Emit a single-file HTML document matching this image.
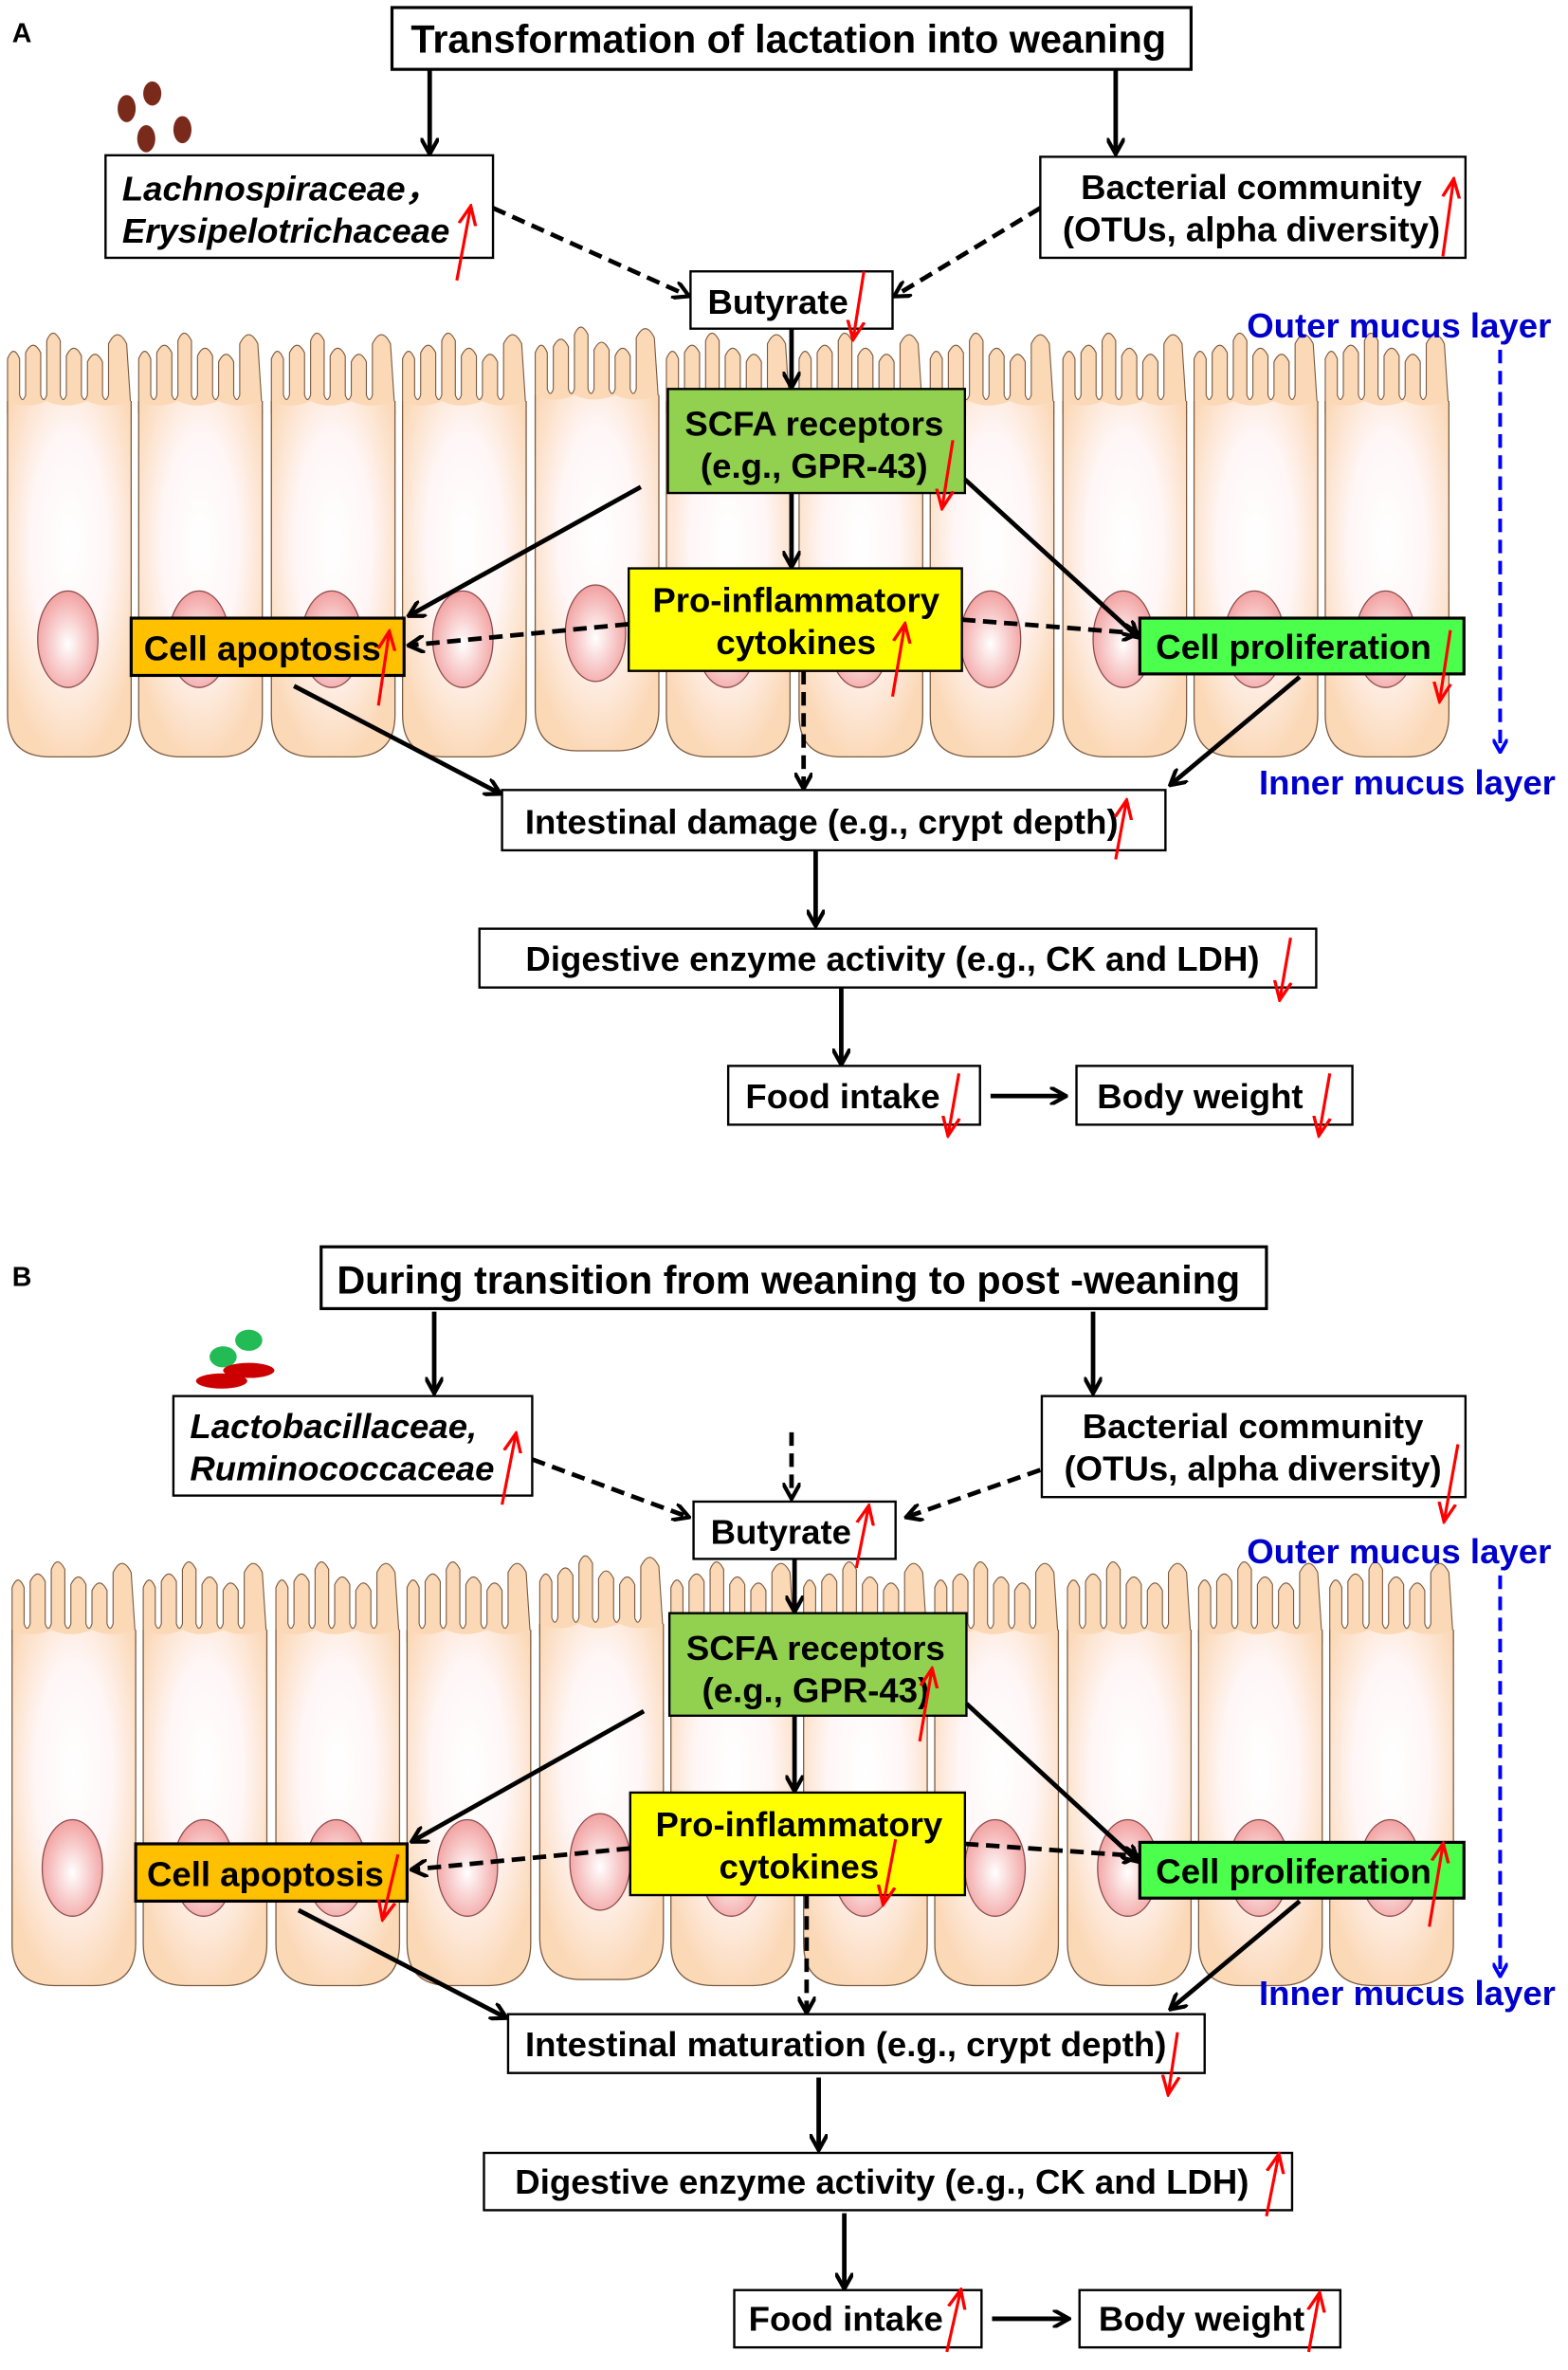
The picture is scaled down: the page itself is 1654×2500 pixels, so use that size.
<!DOCTYPE html>
<html><head><meta charset="utf-8"><style>
html,body{margin:0;padding:0;background:#fff;}
svg{display:block;}
text{font-family:"Liberation Sans",Arial,sans-serif;font-weight:bold;fill:#000;}
</style></head><body>
<svg width="1654" height="2500" viewBox="0 0 1040 1572" preserveAspectRatio="none" xmlns="http://www.w3.org/2000/svg">
<defs>
<radialGradient id="cg" cx="0.5" cy="0.4" r="0.62">
<stop offset="0" stop-color="#ffffff"/><stop offset="0.5" stop-color="#fff6f6"/><stop offset="1" stop-color="#fbd8b6"/>
</radialGradient>
<radialGradient id="ng" cx="0.5" cy="0.55" r="0.55">
<stop offset="0" stop-color="#ffffff"/><stop offset="1" stop-color="#f2a0a0"/>
</radialGradient>
<symbol id="cell" viewBox="0 0 86 280" width="86" height="280" overflow="visible">
<g fill="#fbd8b6" stroke="#7a5a40" stroke-width="0.7">
<path d="M2,50 L2,14 Q6,4 10,14 L10,38 Q12,44 14,38 L14,10 Q19,0 24,10 L24,38 Q26,44 28,38 L28,2 Q32,-8 37,2 L37,38 Q39,44 41,38 L41,12 Q46,2 51,12 L51,38 Q53,44 55,38 L55,16 Q60,6 65,16 L65,38 Q67,44 69,38 L69,4 Q75,-8 81,4 L84,50 Z"/>
</g>
<path d="M2,42 L2,250 Q2,278 30,278 L56,278 Q84,278 84,250 L84,42 Q67,48 55,42 Q40,48 28,42 Q15,48 2,42 Z" fill="url(#cg)" stroke="none"/>
<path d="M2,42 L2,250 Q2,278 30,278 L56,278 Q84,278 84,250 L84,42" fill="none" stroke="#7a5a40" stroke-width="0.8"/>
<ellipse cx="42" cy="200" rx="20" ry="32" fill="url(#ng)" stroke="#8a4a4a" stroke-width="0.8"/>
</symbol>
<marker id="ah" viewBox="0 0 10 10" refX="8" refY="5" markerWidth="4" markerHeight="4" orient="auto"><path d="M0,0 L9,5 L0,10" fill="none" stroke="#000" stroke-width="2.2"/></marker>
<marker id="rh" viewBox="0 0 10 10" refX="8" refY="5" markerWidth="7" markerHeight="7" orient="auto"><path d="M0,1 L9,5 L0,9" fill="none" stroke="#f00" stroke-width="1.5"/></marker>
<marker id="bh" viewBox="0 0 10 10" refX="8" refY="5" markerWidth="4" markerHeight="4" orient="auto"><path d="M0,0 L9,5 L0,10" fill="none" stroke="#00f" stroke-width="2.4"/></marker>
</defs>

<!-- ========== PANEL A ========== -->
<g id="cellsA">
<use href="#cell" x="3" y="224"/><use href="#cell" x="90" y="224"/><use href="#cell" x="178" y="224"/>
<use href="#cell" x="265" y="224"/><use href="#cell" x="353" y="220"/><use href="#cell" x="440" y="224"/>
<use href="#cell" x="528" y="224"/><use href="#cell" x="615" y="224"/><use href="#cell" x="703" y="224"/>
<use href="#cell" x="790" y="224"/><use href="#cell" x="877" y="224"/>
</g>
<text x="8" y="28" font-size="18">A</text>
<rect x="260" y="5" width="530" height="41" fill="#fff" stroke="#000" stroke-width="2"/>
<text x="523" y="35" font-size="26" text-anchor="middle">Transformation of lactation into weaning</text>
<g stroke="#000" stroke-width="3" fill="none" marker-end="url(#ah)">
<line x1="285" y1="46" x2="285" y2="101"/><line x1="740" y1="46" x2="740" y2="101"/>
</g>
<g fill="#7a2a1a"><ellipse cx="84" cy="72" rx="6" ry="9"/><ellipse cx="101" cy="62" rx="6" ry="8"/><ellipse cx="97" cy="92" rx="6" ry="9"/><ellipse cx="121" cy="86" rx="6" ry="9"/></g>
<rect x="70" y="103" width="257" height="68" fill="#fff" stroke="#000" stroke-width="1.5"/>
<text x="81" y="133" font-size="23" font-style="italic">Lachnospiraceae，</text>
<text x="81" y="161" font-size="23" font-style="italic">Erysipelotrichaceae</text>
<rect x="690" y="104" width="282" height="67" fill="#fff" stroke="#000" stroke-width="1.5"/>
<text x="830" y="132" font-size="23" text-anchor="middle">Bacterial community</text>
<text x="830" y="160" font-size="23" text-anchor="middle">(OTUs, alpha diversity)</text>
<g stroke="#000" stroke-width="3" fill="none" stroke-dasharray="9,5" marker-end="url(#ah)">
<line x1="327" y1="138" x2="456" y2="196"/><line x1="690" y1="138" x2="594" y2="196"/>
</g>
<rect x="458" y="180" width="134" height="38" fill="#fff" stroke="#000" stroke-width="1.5"/>
<text x="516" y="208" font-size="23" text-anchor="middle">Butyrate</text>
<line x1="525" y1="218" x2="525" y2="256" stroke="#000" stroke-width="3" marker-end="url(#ah)"/>
<rect x="443" y="258" width="197" height="69" fill="#92d050" stroke="#000" stroke-width="1.5"/>
<text x="540" y="289" font-size="23" text-anchor="middle">SCFA receptors</text>
<text x="540" y="317" font-size="23" text-anchor="middle">(e.g., GPR-43)</text>
<line x1="525" y1="327" x2="525" y2="375" stroke="#000" stroke-width="3" marker-end="url(#ah)"/>
<g stroke="#000" stroke-width="3" fill="none" marker-end="url(#ah)">
<line x1="425" y1="323" x2="272" y2="408"/><line x1="640" y1="318" x2="754" y2="422"/>
<line x1="195" y1="455" x2="331" y2="526"/><line x1="862" y1="449" x2="777" y2="520"/>
</g>
<rect x="417" y="377" width="221" height="68" fill="#ffff00" stroke="#000" stroke-width="1.5"/>
<text x="528" y="406" font-size="23" text-anchor="middle">Pro-inflammatory</text>
<text x="528" y="434" font-size="23" text-anchor="middle">cytokines</text>
<rect x="87" y="410" width="181" height="38" fill="#ffc000" stroke="#000" stroke-width="2"/>
<text x="174" y="438" font-size="23" text-anchor="middle">Cell apoptosis</text>
<rect x="756" y="410" width="215" height="37" fill="#4cff4c" stroke="#000" stroke-width="2"/>
<text x="858" y="437" font-size="23" text-anchor="middle">Cell proliferation</text>
<g stroke="#000" stroke-width="3" fill="none" stroke-dasharray="9,5" marker-end="url(#ah)">
<line x1="417" y1="414" x2="272" y2="428"/><line x1="638" y1="411" x2="754" y2="420"/>
<line x1="533" y1="445" x2="533" y2="522"/>
</g>
<text x="827" y="224" font-size="23" style="fill:#0000cc">Outer mucus layer</text>
<text x="835" y="527" font-size="23" style="fill:#0000cc">Inner mucus layer</text>
<line x1="995" y1="232" x2="995" y2="498" stroke="#00f" stroke-width="2.5" stroke-dasharray="9,5" marker-end="url(#bh)"/>
<rect x="333" y="524" width="440" height="40" fill="#fff" stroke="#000" stroke-width="1.5"/>
<text x="545" y="553" font-size="23" text-anchor="middle">Intestinal damage (e.g., crypt depth)</text>
<line x1="541" y1="564" x2="541" y2="613" stroke="#000" stroke-width="3" marker-end="url(#ah)"/>
<rect x="318" y="616" width="555" height="39" fill="#fff" stroke="#000" stroke-width="1.5"/>
<text x="592" y="644" font-size="23" text-anchor="middle">Digestive enzyme activity (e.g., CK and LDH)</text>
<line x1="558" y1="655" x2="558" y2="705" stroke="#000" stroke-width="3" marker-end="url(#ah)"/>
<rect x="483" y="707" width="167" height="39" fill="#fff" stroke="#000" stroke-width="1.5"/>
<text x="559" y="735" font-size="23" text-anchor="middle">Food intake</text>
<line x1="657" y1="727" x2="706" y2="727" stroke="#000" stroke-width="3" marker-end="url(#ah)"/>
<rect x="714" y="707" width="183" height="39" fill="#fff" stroke="#000" stroke-width="1.5"/>
<text x="796" y="735" font-size="23" text-anchor="middle">Body weight</text>
<g stroke="#f00" stroke-width="2" fill="none" marker-end="url(#rh)">
<line x1="303" y1="186" x2="312" y2="138"/>
<line x1="957" y1="170" x2="964" y2="120"/>
<line x1="573" y1="180" x2="566" y2="224"/>
<line x1="632" y1="292" x2="625" y2="336"/>
<line x1="592" y1="462" x2="600" y2="415"/>
<line x1="251" y1="468" x2="258" y2="420"/>
<line x1="962" y1="418" x2="955" y2="464"/>
<line x1="740" y1="570" x2="747" y2="532"/>
<line x1="856" y1="622" x2="849" y2="662"/>
<line x1="636" y1="712" x2="629" y2="752"/>
<line x1="882" y1="712" x2="875" y2="752"/>
</g>

<!-- ========== PANEL B ========== -->
<g transform="translate(3,815)">
<use href="#cell" x="3" y="224"/><use href="#cell" x="90" y="224"/><use href="#cell" x="178" y="224"/>
<use href="#cell" x="265" y="224"/><use href="#cell" x="353" y="220"/><use href="#cell" x="440" y="224"/>
<use href="#cell" x="528" y="224"/><use href="#cell" x="615" y="224"/><use href="#cell" x="703" y="224"/>
<use href="#cell" x="790" y="224"/><use href="#cell" x="877" y="224"/>
</g>
<text x="8" y="853" font-size="18">B</text>
<rect x="213" y="827" width="627" height="41" fill="#fff" stroke="#000" stroke-width="2"/>
<text x="523" y="858" font-size="26" text-anchor="middle">During transition from weaning to post -weaning</text>
<g stroke="#000" stroke-width="3" fill="none" marker-end="url(#ah)">
<line x1="288" y1="870" x2="288" y2="923"/><line x1="725" y1="870" x2="725" y2="923"/>
</g>
<ellipse cx="148" cy="900" rx="9" ry="7" fill="#22bb55"/><ellipse cx="165" cy="889" rx="9" ry="7" fill="#22bb55"/>
<ellipse cx="165" cy="909" rx="17" ry="5" fill="#cc0000"/><ellipse cx="147" cy="916" rx="17" ry="5" fill="#cc0000"/>
<rect x="115" y="926" width="238" height="66" fill="#fff" stroke="#000" stroke-width="1.5"/>
<text x="126" y="954" font-size="23" font-style="italic">Lactobacillaceae,</text>
<text x="126" y="982" font-size="23" font-style="italic">Ruminococcaceae</text>
<rect x="691" y="926" width="281" height="67" fill="#fff" stroke="#000" stroke-width="1.5"/>
<text x="831" y="954" font-size="23" text-anchor="middle">Bacterial community</text>
<text x="831" y="982" font-size="23" text-anchor="middle">(OTUs, alpha diversity)</text>
<g stroke="#000" stroke-width="3" fill="none" stroke-dasharray="9,5" marker-end="url(#ah)">
<line x1="353" y1="968" x2="456" y2="1006"/><line x1="690" y1="975" x2="602" y2="1006"/>
<line x1="525" y1="950" x2="525" y2="993"/>
</g>
<rect x="460" y="996" width="134" height="38" fill="#fff" stroke="#000" stroke-width="1.5"/>
<text x="518" y="1024" font-size="23" text-anchor="middle">Butyrate</text>
<line x1="527" y1="1034" x2="527" y2="1068" stroke="#000" stroke-width="3" marker-end="url(#ah)"/>
<rect x="444" y="1070" width="197" height="68" fill="#92d050" stroke="#000" stroke-width="1.5"/>
<text x="541" y="1101" font-size="23" text-anchor="middle">SCFA receptors</text>
<text x="541" y="1129" font-size="23" text-anchor="middle">(e.g., GPR-43)</text>
<line x1="527" y1="1138" x2="527" y2="1187" stroke="#000" stroke-width="3" marker-end="url(#ah)"/>
<g stroke="#000" stroke-width="3" fill="none" marker-end="url(#ah)">
<line x1="427" y1="1135" x2="274" y2="1221"/><line x1="641" y1="1130" x2="754" y2="1234"/>
<line x1="198" y1="1267" x2="335" y2="1338"/><line x1="862" y1="1261" x2="777" y2="1332"/>
</g>
<rect x="418" y="1189" width="222" height="68" fill="#ffff00" stroke="#000" stroke-width="1.5"/>
<text x="530" y="1218" font-size="23" text-anchor="middle">Pro-inflammatory</text>
<text x="530" y="1246" font-size="23" text-anchor="middle">cytokines</text>
<rect x="90" y="1223" width="180" height="38" fill="#ffc000" stroke="#000" stroke-width="2"/>
<text x="176" y="1251" font-size="23" text-anchor="middle">Cell apoptosis</text>
<rect x="756" y="1222" width="215" height="37" fill="#4cff4c" stroke="#000" stroke-width="2"/>
<text x="858" y="1249" font-size="23" text-anchor="middle">Cell proliferation</text>
<g stroke="#000" stroke-width="3" fill="none" stroke-dasharray="9,5" marker-end="url(#ah)">
<line x1="418" y1="1226" x2="274" y2="1240"/><line x1="640" y1="1223" x2="754" y2="1231"/>
<line x1="535" y1="1257" x2="535" y2="1334"/>
</g>
<text x="827" y="1037" font-size="23" style="fill:#0000cc">Outer mucus layer</text>
<text x="835" y="1330" font-size="23" style="fill:#0000cc">Inner mucus layer</text>
<line x1="995" y1="1045" x2="995" y2="1310" stroke="#00f" stroke-width="2.5" stroke-dasharray="9,5" marker-end="url(#bh)"/>
<rect x="337" y="1336" width="462" height="39" fill="#fff" stroke="#000" stroke-width="1.5"/>
<text x="561" y="1364" font-size="23" text-anchor="middle">Intestinal maturation (e.g., crypt depth)</text>
<line x1="543" y1="1378" x2="543" y2="1425" stroke="#000" stroke-width="3" marker-end="url(#ah)"/>
<rect x="321" y="1428" width="536" height="38" fill="#fff" stroke="#000" stroke-width="1.5"/>
<text x="585" y="1455" font-size="23" text-anchor="middle">Digestive enzyme activity (e.g., CK and LDH)</text>
<line x1="560" y1="1468" x2="560" y2="1517" stroke="#000" stroke-width="3" marker-end="url(#ah)"/>
<rect x="487" y="1519" width="164" height="38" fill="#fff" stroke="#000" stroke-width="1.5"/>
<text x="561" y="1546" font-size="23" text-anchor="middle">Food intake</text>
<line x1="658" y1="1538" x2="708" y2="1538" stroke="#000" stroke-width="3" marker-end="url(#ah)"/>
<rect x="716" y="1519" width="173" height="38" fill="#fff" stroke="#000" stroke-width="1.5"/>
<text x="797" y="1546" font-size="23" text-anchor="middle">Body weight</text>
<g stroke="#f00" stroke-width="2" fill="none" marker-end="url(#rh)">
<line x1="333" y1="998" x2="342" y2="952"/>
<line x1="967" y1="958" x2="958" y2="1008"/>
<line x1="568" y1="1040" x2="576" y2="1000"/>
<line x1="610" y1="1155" x2="618" y2="1108"/>
<line x1="594" y1="1220" x2="586" y2="1262"/>
<line x1="264" y1="1230" x2="254" y2="1272"/>
<line x1="948" y1="1278" x2="957" y2="1224"/>
<line x1="781" y1="1348" x2="775" y2="1388"/>
<line x1="840" y1="1470" x2="848" y2="1430"/>
<line x1="628" y1="1560" x2="637" y2="1520"/>
<line x1="868" y1="1560" x2="875" y2="1522"/>
</g>
</svg>
</body></html>
